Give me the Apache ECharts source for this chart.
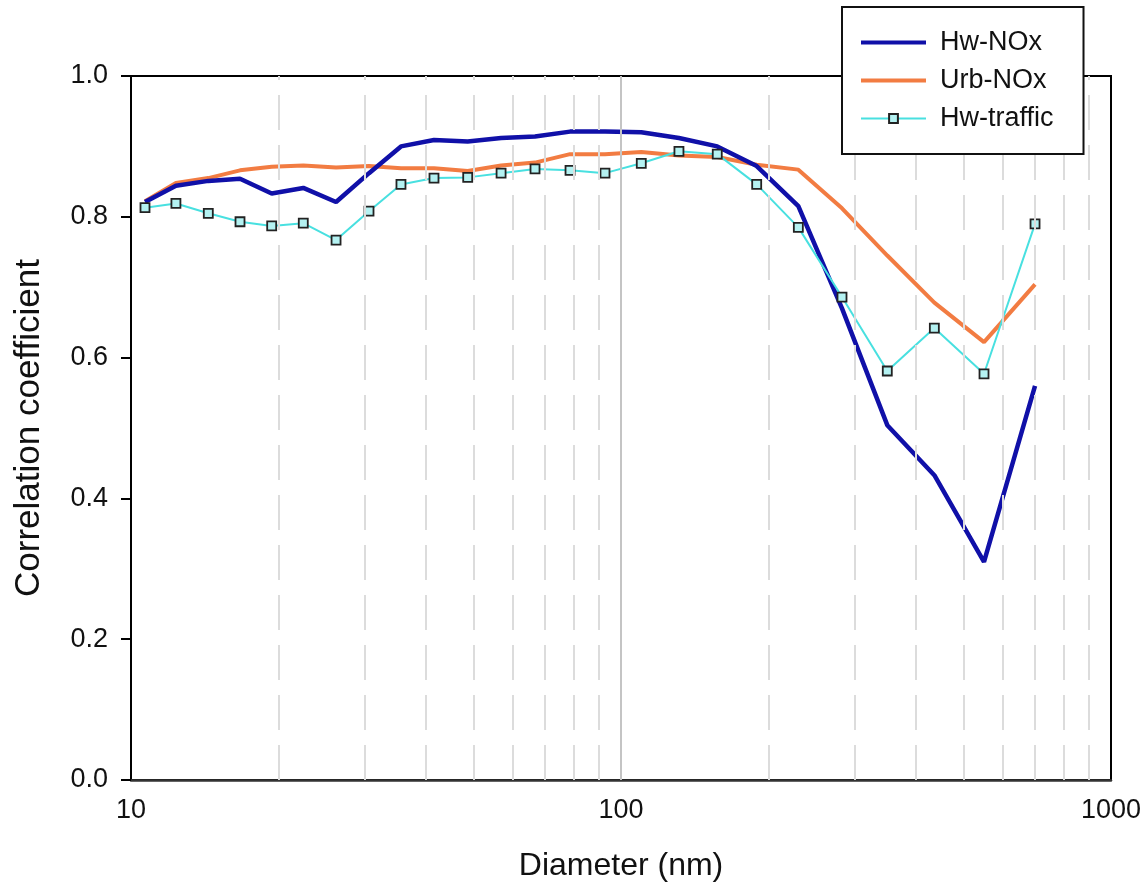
<!DOCTYPE html>
<html>
<head>
<meta charset="utf-8">
<script src="https://cdn.jsdelivr.net/npm/echarts@6/dist/echarts.min.js"></script>
<style>
html,body{margin:0;padding:0;background:#fff;}
#chart{width:1145px;height:887px;}
</style>
</head>
<body>
<div id="chart"></div>
<script>
// Particle diameter bins (nm)
const diameters = [10.68, 12.35, 14.38, 16.69, 19.37, 22.47, 26.21, 30.60, 35.56, 41.53, 48.66, 56.92, 66.76, 78.70, 92.75, 110.0, 131.3, 157.2, 189.2, 230.1, 282.5, 349.5, 436.0, 550.6, 699.8];
// Correlation coefficients
const hwNOx     = [0.821, 0.844, 0.851, 0.854, 0.833, 0.841, 0.821, 0.862, 0.900, 0.909, 0.907, 0.912, 0.914, 0.921, 0.921, 0.920, 0.912, 0.900, 0.872, 0.815, 0.670, 0.504, 0.433, 0.310, 0.560];
const urbNOx    = [0.822, 0.848, 0.855, 0.866, 0.871, 0.873, 0.870, 0.872, 0.869, 0.869, 0.865, 0.873, 0.877, 0.889, 0.889, 0.892, 0.887, 0.885, 0.874, 0.867, 0.812, 0.745, 0.678, 0.622, 0.704];
const hwTraffic = [0.813, 0.819, 0.805, 0.793, 0.787, 0.791, 0.767, 0.808, 0.846, 0.855, 0.856, 0.862, 0.868, 0.866, 0.862, 0.876, 0.893, 0.889, 0.846, 0.785, 0.686, 0.581, 0.642, 0.577, 0.790];
// Series names
const seriesNames = ['Hw-NOx', 'Urb-NOx', 'Hw-traffic'];
// Vertical grid line positions (nm)
const minorGrid = [20, 30, 40, 50, 60, 70, 80, 90, 200, 300, 400, 500, 600, 700, 800, 900];
const majorGrid = [100];

const pairs = arr => diameters.map((d, i) => [d, arr[i]]);

const chart = echarts.init(document.getElementById('chart'), null, {renderer: 'canvas'});

const gridLines = minorGrid.map(v => ({
  xAxis: v,
  lineStyle: {color: '#dcdcdc', width: 2, type: [35, 15]}
})).concat(majorGrid.map(v => ({
  xAxis: v,
  lineStyle: {color: '#c4c4c4', width: 2, type: 'solid'}
})));

const FONT = 'Liberation Sans, Arial, sans-serif';

const option = {
  backgroundColor: '#fff',
  animation: false,
  textStyle: {fontFamily: FONT},
  grid: {
    left: 131, right: 34, top: 76, bottom: 107,
    outerBoundsMode: 'none', containLabel: false,
    show: true, borderColor: '#000', borderWidth: 2, backgroundColor: 'transparent'
  },
  legend: {
    data: [
      {name: seriesNames[0], itemStyle: {opacity: 0}, lineStyle: {width: 4}},
      {name: seriesNames[1], itemStyle: {opacity: 0}, lineStyle: {width: 4}},
      {name: seriesNames[2], lineStyle: {width: 2}}
    ],
    orient: 'vertical',
    left: 842, top: 7,
    backgroundColor: '#fff',
    borderColor: '#111', borderWidth: 2,
    padding: [22, 30, 22, 17],
    itemWidth: 65, itemHeight: 11, itemGap: 11,
    textStyle: {fontSize: 27, color: '#111', lineHeight: 26, fontFamily: FONT, padding: [0, 0, 0, 9]},
    z: 10
  },
  xAxis: {
    type: 'log', logBase: 10, min: 10, max: 1000,
    name: 'Diameter (nm)', nameLocation: 'middle', nameGap: 70,
    nameTextStyle: {fontSize: 32, color: '#111'},
    axisLine: {show: true, lineStyle: {color: '#333', width: 2.5}},
    axisTick: {show: false},
    axisLabel: {fontSize: 27, color: '#111', margin: 17, formatter: v => String(Math.round(v))},
    splitLine: {show: false}
  },
  yAxis: {
    type: 'value', min: 0, max: 1, interval: 0.2,
    name: 'Correlation coefficient', nameLocation: 'middle', nameGap: 84,
    nameTextStyle: {fontSize: 35, color: '#111'},
    axisLine: {show: true, lineStyle: {color: '#000', width: 2}},
    axisTick: {show: true, inside: false, length: 10, lineStyle: {color: '#000', width: 2}},
    axisLabel: {fontSize: 27, color: '#111', margin: 23, formatter: v => v.toFixed(1)},
    splitLine: {show: false}
  },
  series: [
    {
      name: 'grid', type: 'line', data: [], silent: true, z: 1,
      markLine: {silent: true, symbol: ['none', 'none'], label: {show: false}, animation: false, data: gridLines}
    },
    {
      name: 'Urb-NOx', type: 'line', data: pairs(urbNOx), z: 2,
      symbol: 'none', showSymbol: false,
      lineStyle: {color: '#f27c42', width: 4}, itemStyle: {color: '#f27c42'}
    },
    {
      name: 'Hw-NOx', type: 'line', data: pairs(hwNOx), z: 3,
      symbol: 'none', showSymbol: false,
      lineStyle: {color: '#1010a8', width: 4.5}, itemStyle: {color: '#1010a8'}
    },
    {
      name: 'Hw-traffic', type: 'line', data: pairs(hwTraffic), z: 4,
      symbol: 'rect', symbolSize: 9, showSymbol: true,
      lineStyle: {color: '#48e0e0', width: 2},
      itemStyle: {color: '#b4f2f2', borderColor: '#222', borderWidth: 1.8}
    }
  ]
};
chart.setOption(option);
</script>
</body>
</html>
